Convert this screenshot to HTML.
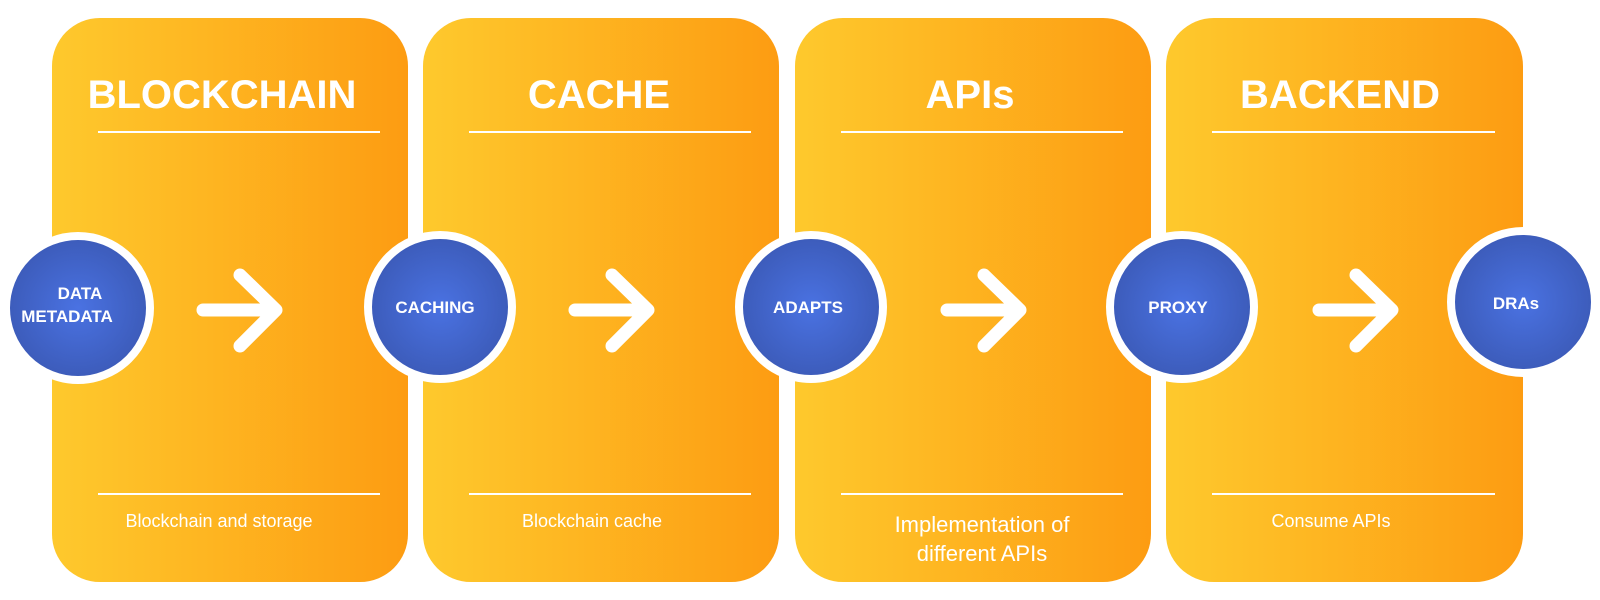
<!DOCTYPE html>
<html><head><meta charset="utf-8"><style>
html,body{margin:0;padding:0;background:#fff;}
svg{display:block;}
text{font-family:"Liberation Sans",sans-serif;fill:#fff;}
</style></head><body>
<svg width="1600" height="600" viewBox="0 0 1600 600" xmlns="http://www.w3.org/2000/svg">
<defs>
<linearGradient id="g" x1="0" x2="1" y1="0" y2="0">
<stop offset="0" stop-color="#fec92d"/><stop offset="1" stop-color="#fd9c12"/>
</linearGradient>
<radialGradient id="b" cx="0.5" cy="0.5" r="0.5">
<stop offset="0" stop-color="#4a72e2"/><stop offset="1" stop-color="#3c5bb9"/>
</radialGradient>
</defs>
<g>
<rect x="52" y="18" width="356" height="564" rx="48" fill="url(#g)"/>
<rect x="423" y="18" width="356" height="564" rx="48" fill="url(#g)"/>
<rect x="795" y="18" width="356" height="564" rx="48" fill="url(#g)"/>
<rect x="1166" y="18" width="357" height="564" rx="48" fill="url(#g)"/>
</g>
<g stroke="#fff" stroke-width="2">
<line x1="98" y1="132" x2="380" y2="132"/><line x1="98" y1="494" x2="380" y2="494"/>
<line x1="469" y1="132" x2="751" y2="132"/><line x1="469" y1="494" x2="751" y2="494"/>
<line x1="841" y1="132" x2="1123" y2="132"/><line x1="841" y1="494" x2="1123" y2="494"/>
<line x1="1212" y1="132" x2="1495" y2="132"/><line x1="1212" y1="494" x2="1495" y2="494"/>
</g>
<g font-weight="bold" font-size="40" text-anchor="middle">
<text x="222" y="108">BLOCKCHAIN</text>
<text x="599" y="108">CACHE</text>
<text x="970" y="108">APIs</text>
<text x="1340" y="108">BACKEND</text>
</g>
<g font-size="18" text-anchor="middle">
<text x="219" y="527">Blockchain and storage</text>
<text x="592" y="527">Blockchain cache</text>
<text x="1331" y="527">Consume APIs</text>
</g>
<g font-size="22" text-anchor="middle">
<text x="982" y="532">Implementation of</text>
<text x="982" y="561">different APIs</text>
</g>
<g stroke="#fff" stroke-width="13" stroke-linecap="round" stroke-linejoin="round" fill="none">
<path d="M203 310H275M240 275L276 310L240 346"/>
<path d="M575 310H647M612 275L648 310L612 346"/>
<path d="M947 310H1019M984 275L1020 310L984 346"/>
<path d="M1319 310H1391M1356 275L1392 310L1356 346"/>
</g>
<g stroke="#fff" stroke-width="8" fill="url(#b)">
<circle cx="78" cy="308" r="72"/>
<circle cx="440" cy="307" r="72"/>
<circle cx="811" cy="307" r="72"/>
<circle cx="1182" cy="307" r="72"/>
<ellipse cx="1523" cy="302" rx="72" ry="71"/>
</g>
<g font-weight="bold" font-size="17" text-anchor="middle">
<text x="80" y="299">DATA</text>
<text x="67" y="322">METADATA</text>
<text x="435" y="313">CACHING</text>
<text x="808" y="313">ADAPTS</text>
<text x="1178" y="313">PROXY</text>
<text x="1516" y="309">DRAs</text>
</g>
</svg>
</body></html>
